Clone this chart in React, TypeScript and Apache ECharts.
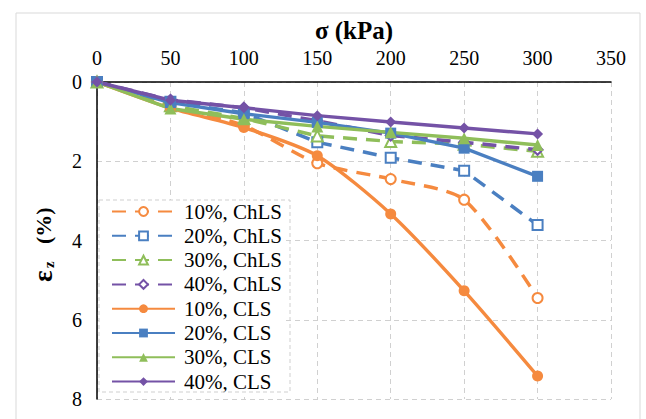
import React, { useEffect, useRef } from "react";
import * as echarts from "echarts";

const sigma = [0, 50, 100, 150, 200, 250, 300];

const chls10 = [0, 0.6, 1.1, 2.05, 2.45, 2.97, 5.45];
const chls20 = [0, 0.5, 0.78, 1.52, 1.91, 2.24, 3.61];
const chls30 = [0, 0.6, 0.92, 1.36, 1.5, 1.57, 1.75];
const chls40 = [0, 0.45, 0.65, 0.98, 1.35, 1.52, 1.71];
const cls10 = [0, 0.66, 1.15, 1.86, 3.33, 5.27, 7.42];
const cls20 = [0, 0.52, 0.8, 1.02, 1.29, 1.67, 2.38];
const cls30 = [0, 0.67, 0.94, 1.12, 1.27, 1.42, 1.59];
const cls40 = [0, 0.46, 0.65, 0.85, 1.01, 1.16, 1.31];

const names = [
  "10%, ChLS",
  "20%, ChLS",
  "30%, ChLS",
  "40%, ChLS",
  "10%, CLS",
  "20%, CLS",
  "30%, CLS",
  "40%, CLS",
];

const ORANGE = "#F58A3F";
const BLUE = "#4A7FC1";
const GREEN = "#8FBE5A";
const PURPLE = "#7452A6";

const FONT = "Liberation Serif";

export default function App() {
  const ref = useRef<HTMLDivElement>(null);
  useEffect(() => {
    if (!ref.current) return;
    const chart = echarts.init(ref.current, null, { renderer: "svg" });
    const pts = (v: number[]) => sigma.map((s, i) => [s, v[i]]);
    const dashed = (name: string, v: number[], color: string, symbol: string, smooth: number | boolean) => ({
      name,
      type: "line",
      data: pts(v),
      smooth,
      symbol,
      symbolSize: symbol === "emptyTriangle" ? 11 : 10,
      showAllSymbol: true,
      clip: false,
      lineStyle: { color, width: 3.5, type: [14, 9] },
      itemStyle: { color, borderColor: color, borderWidth: 1.8 },
      z: 2,
    });
    const solid = (name: string, v: number[], color: string, symbol: string, smooth: number | boolean) => ({
      name,
      type: "line",
      data: pts(v),
      smooth,
      symbol,
      symbolSize: symbol === "triangle" ? 12 : 11,
      clip: false,
      lineStyle: { color, width: 3.4 },
      itemStyle: { color },
      z: 3,
    });
    const nameStyle = { fontFamily: FONT, fontSize: 22, fontWeight: "bold", fill: "#000" };
    chart.setOption({
      animation: false,
      backgroundColor: "#ffffff",
      grid: { left: 97, top: 82, right: 35, bottom: 20, containLabel: false },
      xAxis: {
        type: "value",
        position: "top",
        min: 0,
        max: 350,
        interval: 50,
        name: "σ (kPa)",
        nameLocation: "middle",
        nameGap: 35,
        nameTextStyle: { fontFamily: FONT, fontSize: 25, fontWeight: "bold", color: "#000" },
        axisLine: { show: true, onZero: false, lineStyle: { color: "#000", width: 1.5 } },
        axisTick: { show: false },
        axisLabel: { fontFamily: FONT, fontSize: 20, color: "#000", margin: 14 },
        splitLine: { show: true, lineStyle: { color: "#d0d0d0", type: [5, 4], width: 1 } },
      },
      yAxis: {
        type: "value",
        inverse: true,
        min: 0,
        max: 8,
        interval: 2,
        axisLine: { show: true, onZero: false, lineStyle: { color: "#000", width: 1.5 } },
        axisTick: { show: false },
        axisLabel: { fontFamily: FONT, fontSize: 20, color: "#000", margin: 15 },
        splitLine: { show: true, lineStyle: { color: "#d0d0d0", type: [5, 4], width: 1 } },
      },
      legend: {
        data: names,
        orient: "vertical",
        left: 99,
        top: 200,
        itemWidth: 63,
        itemHeight: 11,
        itemGap: 3.3,
        padding: [1, 4, 4, 12],
        backgroundColor: "#ffffff",
        textStyle: { fontFamily: FONT, fontSize: 21, color: "#000", padding: [0, 0, 0, 4] },
      },
      graphic: [
        {
          type: "rect",
          shape: { x: 16, y: 13, width: 624, height: 420 },
          style: { fill: "none", stroke: "#d9d9d9", lineWidth: 1 },
          silent: true,
          z: 0,
        },
        {
          type: "rect",
          shape: { x: 99, y: 200, width: 191, height: 192 },
          style: { fill: "none", stroke: "#cfcfcf", lineWidth: 1, lineDash: [4, 3] },
          silent: true,
          z: 10,
        },
        {
          type: "group",
          x: 43,
          y: 239,
          rotation: Math.PI / 2,
          silent: true,
          children: [
            { type: "text", x: -43, y: 0, style: { ...nameStyle, fontSize: 27, text: "ε", textAlign: "left", textVerticalAlign: "middle" } },
            { type: "text", x: -29, y: 6, style: { ...nameStyle, fontSize: 15, text: "z", textAlign: "left", textVerticalAlign: "middle" } },
            { type: "text", x: -5, y: 0, style: { ...nameStyle, text: "(%)", textAlign: "left", textVerticalAlign: "middle" } },
          ],
        },
      ],
      series: [
        dashed(names[0], chls10, ORANGE, "emptyCircle", 0.25),
        dashed(names[1], chls20, BLUE, "emptyRect", false),
        dashed(names[2], chls30, GREEN, "emptyTriangle", false),
        dashed(names[3], chls40, PURPLE, "emptyDiamond", false),
        solid(names[4], cls10, ORANGE, "circle", 0.25),
        solid(names[5], cls20, BLUE, "rect", false),
        solid(names[6], cls30, GREEN, "triangle", false),
        solid(names[7], cls40, PURPLE, "diamond", false),
      ],
    });
    return () => chart.dispose();
  }, []);
  return (
    <div
      ref={ref}
      style={{ position: "fixed", left: 0, top: 0, width: 646, height: 419 }}
    />
  );
}
